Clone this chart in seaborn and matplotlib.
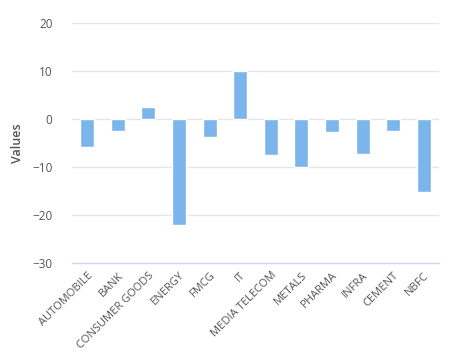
import matplotlib
matplotlib.use('Agg')
import matplotlib.pyplot as plt
import seaborn as sns
import pandas as pd
import numpy as np

# sector values
categories = ['AUTOMOBILE', 'BANK', 'CONSUMER GOODS', 'ENERGY', 'FMCG', 'IT',
              'MEDIA TELECOM', 'METALS', 'PHARMA', 'INFRA', 'CEMENT', 'NBFC']
values = [-5.9, -2.6, 2.4, -22.1, -3.7, 10.0, -7.4, -10.0, -2.8, -7.2, -2.6, -15.3]
y_ticks = [-30, -20, -10, 0, 10, 20]

df = pd.DataFrame({'sector': categories, 'value': values})

sns.set_style('white')
plt.rcParams['font.family'] = ['Open Sans', 'DejaVu Sans']

fig = plt.figure(figsize=(4.72, 3.52), dpi=100)
ax = fig.add_axes([72 / 472, 1 - 263 / 352, (439 - 72) / 472, (263 - 23) / 352])

sns.barplot(data=df, x='sector', y='value', color='#7cb5ec', saturation=1,
            width=0.46, edgecolor='white', linewidth=1, ax=ax, zorder=3)

ax.set_ylim(-30, 20)
ax.set_xlim(-0.5, len(categories) - 0.5)
ax.set_yticks(y_ticks)
for t in y_ticks[1:]:
    ax.axhline(t, color='#e6e6e6', lw=1, zorder=1)

for s in ['top', 'right', 'left']:
    ax.spines[s].set_visible(False)
ax.spines['bottom'].set_color('#ccd6eb')
ax.spines['bottom'].set_linewidth(1)

ax.tick_params(axis='y', length=0, labelsize=8.5, labelcolor='#555555', pad=14)
ax.set_xticks(range(len(categories)))
ax.set_xticklabels(categories, rotation=45, ha='right', rotation_mode='anchor',
                   fontsize=8, color='#555555')
ax.tick_params(axis='x', which='major', length=0, pad=5)
ax.set_xticks(np.arange(-0.5, len(categories)), minor=True)
ax.tick_params(axis='x', which='minor', length=7, width=1, color='#ccd6eb')

ax.set_xlabel('')
ax.set_ylabel('Values', fontsize=9, color='#555555', labelpad=6, fontweight='semibold')

fig.savefig('out.png', dpi=100)
